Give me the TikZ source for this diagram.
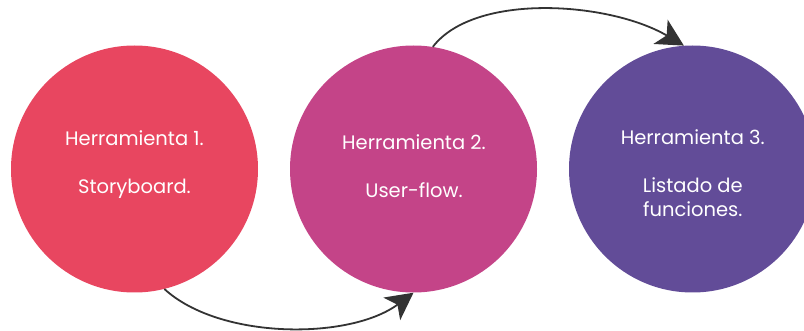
\documentclass[tikz,border=0pt]{standalone}
\usepackage{fontspec}
\setmainfont{Poppins}
\newfontfamily\lblfont{Poppins}
\usetikzlibrary{arrows.meta}
\definecolor{cone}{HTML}{E84660}
\definecolor{ctwo}{HTML}{C44488}
\definecolor{cthree}{HTML}{624C98}
\definecolor{arrowgray}{HTML}{333333}
\tikzset{
  bubble/.style={circle, inner sep=0pt, minimum size=247pt, draw=none},
  label text/.style={text=white, align=center, font=\lblfont\fontsize{19.5pt}{24pt}\selectfont, anchor=base, inner sep=0pt},
  flow/.style={draw=arrowgray, line width=1.8pt, -{Stealth[length=27pt, width=28pt, inset=7pt]}}
}
\begin{document}
\begin{tikzpicture}[x=1pt, y=-1pt]
\useasboundingbox (0,0) rectangle (804,331);
\clip (0,0) rectangle (804,331);
\node[bubble, fill=cone] (c1) at (134.5,169) {};
\node[bubble, fill=ctwo] (c2) at (413.5,169) {};
\node[bubble, fill=cthree] (c3) at (692.5,169) {};
\node[label text] (t1) at (134.5,193.3) {Herramienta 1.\\[24pt]Storyboard.};
\node[label text] (t2) at (414,197.3) {Herramienta 2.\\[24pt]User-flow.};
\node[label text] (t3) at (692.8,217) {Herramienta 3.\\[24pt]Listado de\\funciones.};
\draw[flow] (c1.-76) .. controls (220,340) and (350,340) .. (c2.south);
\draw[flow] (c2.81) .. controls (475,-8) and (610,2) .. (c3.94);
\end{tikzpicture}
\end{document}
